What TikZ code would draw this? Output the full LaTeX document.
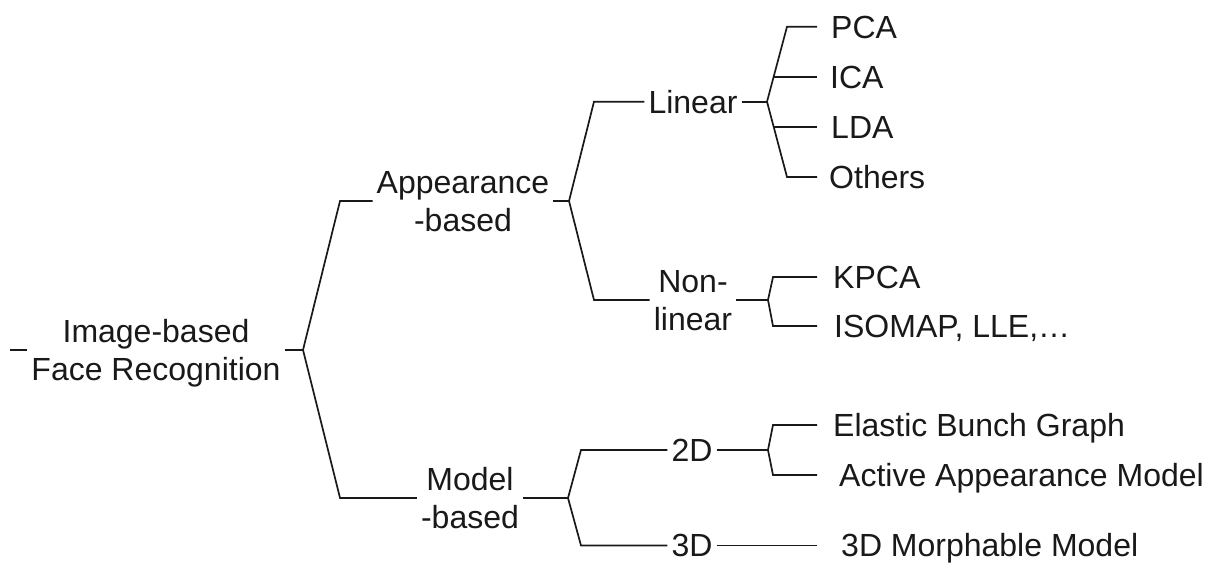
\documentclass[tikz,border=0pt]{standalone}
\usepackage{fontspec}
\setmainfont{Liberation Sans}
\newcommand{\cb}[1]{\raisebox{0pt}[0.716em][0pt]{#1}}
\begin{document}
\begin{tikzpicture}[x=1pt,y=-1pt,
  lbl/.style={font=\fontsize{32}{38.5}\selectfont, inner xsep=4pt, inner ysep=0pt, text=black!90},
  leaf/.style={lbl, anchor=west, inner xsep=#1},
  leaf/.default=14pt,
  conn/.style={line width=1.7pt, draw=black!90, line join=miter}]
\useasboundingbox (0,0) rectangle (1225,562);

% level 0
\coordinate (r0) at (10,350);
\node[lbl, align=center] (root) at (156,350) {\cb{Image-based}\\\cb{Face Recognition}};
\coordinate (f0) at (303,350);

% level 1
\node[lbl, align=center] (app) at (463,201) {\cb{Appearance}\\\cb{-based}};
\node[lbl, align=center] (model) at (470,498) {\cb{Model}\\\cb{-based}};
\coordinate (f1) at (569,201);
\coordinate (f4) at (568,498);

% level 2
\node[lbl] (lin) at (693,101.7) {\cb{Linear}};
\node[lbl, align=center] (nonlin) at (693,300) {\cb{Non-}\\\cb{linear}};
\node[lbl] (d2) at (692,450) {\cb{2D}};
\node[lbl] (d3) at (692,545.5) {\cb{3D}};
\coordinate (f2) at (767,101.7);
\coordinate (f3) at (768,300);
\coordinate (f5) at (768,450);

% leaves
\node[leaf=14pt] (pca) at (817,26.7) {\cb{PCA}};
\node[leaf=13pt] (ica) at (817,77) {\cb{ICA}};
\node[leaf=14pt] (lda) at (817,127) {\cb{LDA}};
\node[leaf=12pt] (oth) at (817,177) {\cb{Others}};
\node[leaf=16pt] (kpca) at (817,277) {\cb{KPCA}};
\node[leaf=17pt] (iso) at (817,326) {\cb{ISOMAP, LLE,\dots}};
\node[leaf=16pt] (ebg) at (817,425) {\cb{Elastic Bunch Graph}};
\node[leaf=22pt] (aam) at (817,475) {\cb{Active Appearance Model}};
\node[leaf=24pt] (mm) at (817,545.5) {\cb{3D Morphable Model}};

% connectors
\draw[conn] (r0) -- (root.west);
\draw[conn] (root.east) -- (f0);
\draw[conn] (f0) -- (340,0 |- app.west) -- (app.west);
\draw[conn] (f0) -- (340,0 |- model.west) -- (model.west);

\draw[conn] (app.east) -- (f1);
\draw[conn] (f1) -- (594,0 |- lin.west) -- (lin.west);
\draw[conn] (f1) -- (594,0 |- nonlin.west) -- (nonlin.west);

\draw[conn] (lin.east) -- (f2);
\draw[conn] (f2) -- (787,0 |- pca.west) -- (pca.west);
\draw[conn] (f2) -- (787,0 |- oth.west) -- (oth.west);
\draw[conn] (773.6,0 |- ica.west) -- (ica.west);
\draw[conn] (773.6,0 |- lda.west) -- (lda.west);

\draw[conn] (nonlin.east) -- (f3);
\draw[conn] (f3) -- (773,0 |- kpca.west) -- (kpca.west);
\draw[conn] (f3) -- (773,0 |- iso.west) -- (iso.west);

\draw[conn] (model.east) -- (f4);
\draw[conn] (f4) -- (581,0 |- d2.west) -- (d2.west);
\draw[conn] (f4) -- (581,0 |- d3.west) -- (d3.west);

\draw[conn] (d2.east) -- (f5);
\draw[conn] (f5) -- (773,0 |- ebg.west) -- (ebg.west);
\draw[conn] (f5) -- (773,0 |- aam.west) -- (aam.west);

\draw[conn] (d3.east) -- (mm.west);
\end{tikzpicture}
\end{document}
